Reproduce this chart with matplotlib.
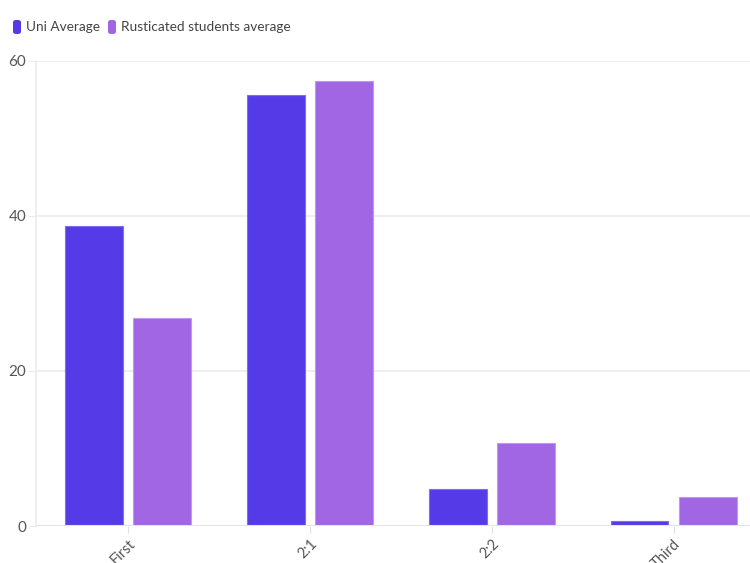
import numpy as np
import matplotlib.pyplot as plt
from matplotlib.patches import FancyBboxPatch

categories = ['First', '2:1', '2:2', 'Third']
uni_avg = [38.7, 55.6, 4.8, 0.65]
rusticated_avg = [26.8, 57.4, 10.7, 3.7]
series_names = ['Uni Average', 'Rusticated students average']
colors = ['#553be8', '#a066e4']
edges = ['#7f6cf0', '#bf99ef']

plt.rcParams['font.family'] = ['Lato', 'DejaVu Sans']

W, H = 750, 563
fig = plt.figure(figsize=(W / 100, H / 100), dpi=100)
ax = fig.add_axes([36 / W, 37 / H, 1 - 36 / W, 465 / H])

x = np.arange(len(categories))
w = 0.318
ax.bar(x - 0.1875, uni_avg, width=w, color=colors[0], edgecolor=edges[0], linewidth=0.8, zorder=3)
ax.bar(x + 0.1875, rusticated_avg, width=w, color=colors[1], edgecolor=edges[1], linewidth=0.8, zorder=3)

ax.set_xlim(-0.505, 3.42)
ax.set_ylim(0, 60)
ax.set_yticks([0, 20, 40, 60])
ax.yaxis.grid(True, color='#ececec', linewidth=1.2, zorder=0)
ax.set_xticks(x)
ax.set_xticklabels(categories, rotation=45, ha='right', rotation_mode='anchor')

for s in ['top', 'right', 'bottom']:
    ax.spines[s].set_visible(False)
ax.spines['left'].set_color('#ececec')
ax.spines['left'].set_linewidth(1.2)
ax.axhline(0, color='#e4e4e4', linewidth=1.5, zorder=4)
ax.tick_params(axis='y', length=6, color='#ececec', labelcolor='#555555', labelsize=11, pad=1)
ax.tick_params(axis='x', length=5, color='#e0e0e0', labelcolor='#555555', labelsize=10.5, pad=3)

# legend drawn by hand: tall rounded swatches like the original
lx = 13
for name, c in zip(series_names, colors):
    fig.patches.append(FancyBboxPatch((lx / W, (H - 34) / H), 8 / W, 14 / H,
                                      boxstyle='round,pad=0,rounding_size=0.004',
                                      transform=fig.transFigure, facecolor=c, edgecolor='none'))
    t = fig.text((lx + 13) / W, (H - 27) / H, name, fontsize=9.8, color='#444444', va='center')
    fig.canvas.draw()
    bb = t.get_window_extent()
    lx = bb.x1 + 8

fig.savefig('out.png', dpi=100)
